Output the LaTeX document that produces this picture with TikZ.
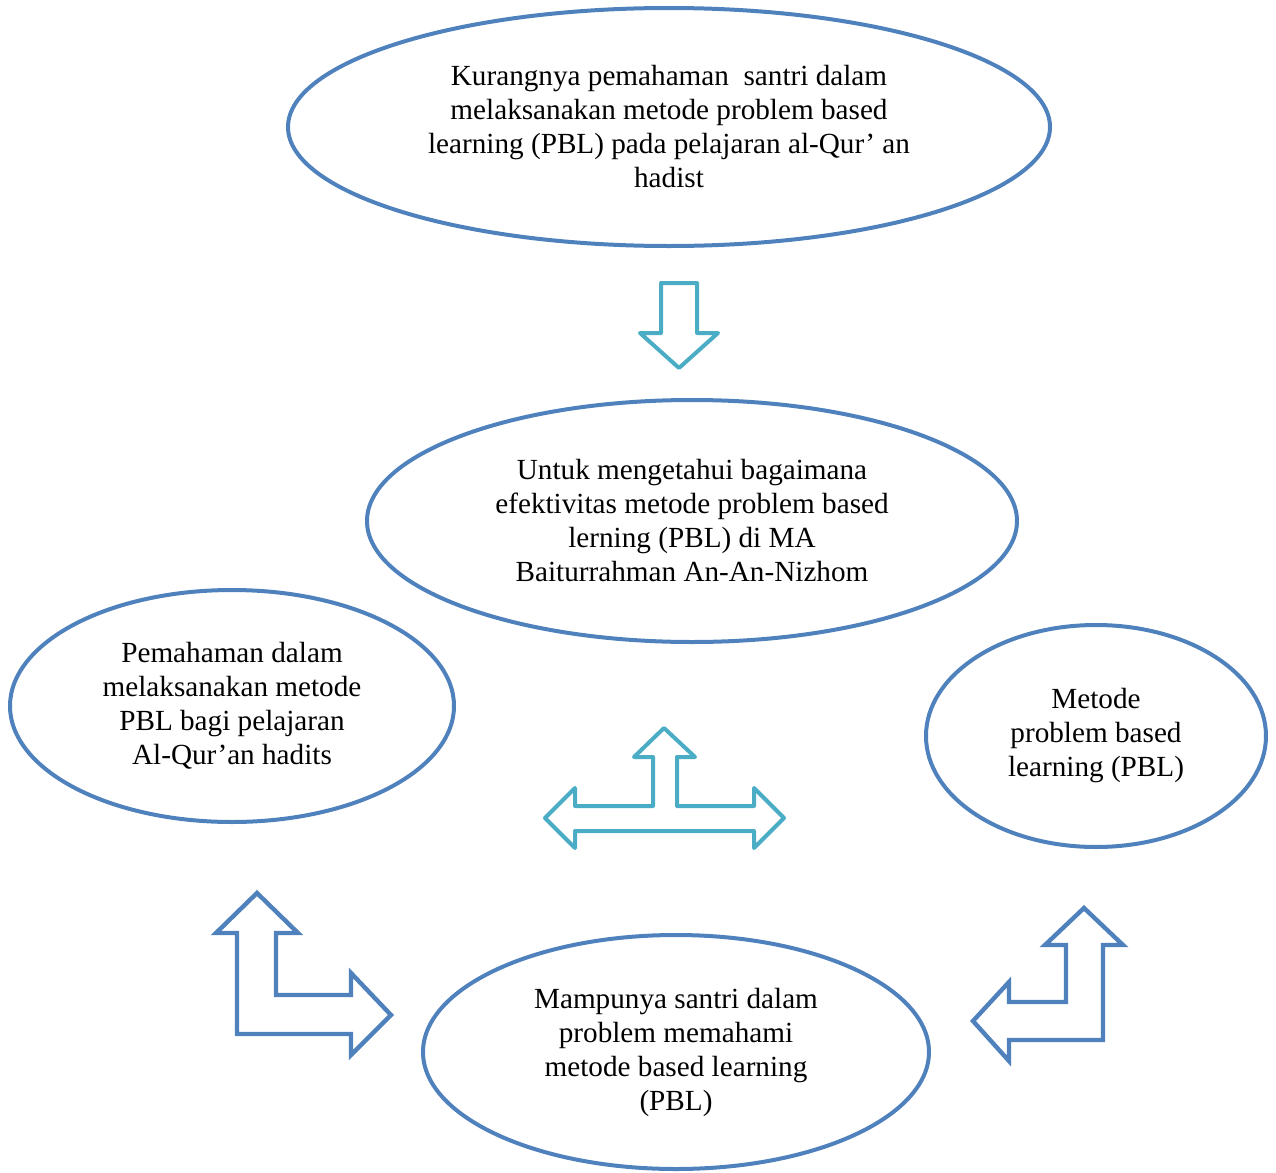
\documentclass[tikz,border=0pt]{standalone}
\usepackage{fontspec}
\setmainfont{Liberation Serif}
\usetikzlibrary{shapes.geometric,positioning}
\definecolor{ellblue}{RGB}{79, 129, 189}
\definecolor{arrcyan}{RGB}{75, 172, 198}

\begin{document}
\begin{tikzpicture}[x=0.5pt, y=-0.5pt,
		oval/.style={draw=ellblue, ellipse, line width=2pt, inner sep=0pt, align=center, font=\fontsize{14.6}{17}\selectfont},
		blockCyan/.style={draw=arrcyan, line width=2pt, line join=round, fill=white},
		blockBlue/.style={draw=ellblue, line width=2.2pt, line join=miter, fill=white},
		]
		\useasboundingbox (0,0) rectangle (1276,1173);
		
		\node[oval, minimum width=381pt, minimum height=119pt] (problem) at (669,127) {Kurangnya pemahaman~ santri dalam\\ melaksanakan metode problem based\\ learning (PBL) pada pelajaran al-Qur’ an\\ hadist};
		\node[oval, minimum width=325pt, minimum height=121pt] (tujuan) at (692,521) {Untuk mengetahui bagaimana\\ efektivitas metode problem based\\ lerning (PBL) di MA\\ Baiturrahman An-An-Nizhom};
		\node[oval, minimum width=222pt, minimum height=116pt] (paham) at (232,706) {Pemahaman dalam\\ melaksanakan metode\\ PBL bagi pelajaran\\ Al-Qur’an hadits};
		\node[oval, minimum width=170pt, minimum height=111pt] (metode) at (1096,736) {Metode\\ problem based\\ learning (PBL)};
		\node[oval, minimum width=253pt, minimum height=117pt] (mampu) at (676,1052) {Mampunya santri dalam\\ problem memahami\\ metode based learning\\ (PBL)};
		
		% down arrow
		\draw[blockCyan] (661,283) -- (697,283) -- (697,333) -- (718,333) -- (679,368) -- (640,333) -- (661,333) -- cycle;
		
		% three-way arrow
		\draw[blockCyan] (664,728) -- (695,757) -- (677,757) -- (677,806) -- (754,806) -- (754,788) -- (784,818)
			-- (754,848) -- (754,831) -- (575,831) -- (575,848) -- (545,818) -- (575,788) -- (575,806)
			-- (653,806) -- (653,757) -- (634,757) -- cycle;
		
		% left bent arrow
		\draw[blockBlue] (257,893) -- (298,933) -- (276,933) -- (276,995) -- (351,995) -- (351,973) -- (391,1015)
			-- (351,1055) -- (351,1034) -- (237,1034) -- (237,933) -- (216,933) -- cycle;
		
		% right bent arrow
		\draw[blockBlue] (1084,908) -- (1123,945) -- (1103,945) -- (1103,1040) -- (1009,1040) -- (1009,1061)
			-- (973,1021) -- (1009,982) -- (1009,1002) -- (1066,1002) -- (1066,945) -- (1045,945) -- cycle;
		
\end{tikzpicture}
\end{document}
